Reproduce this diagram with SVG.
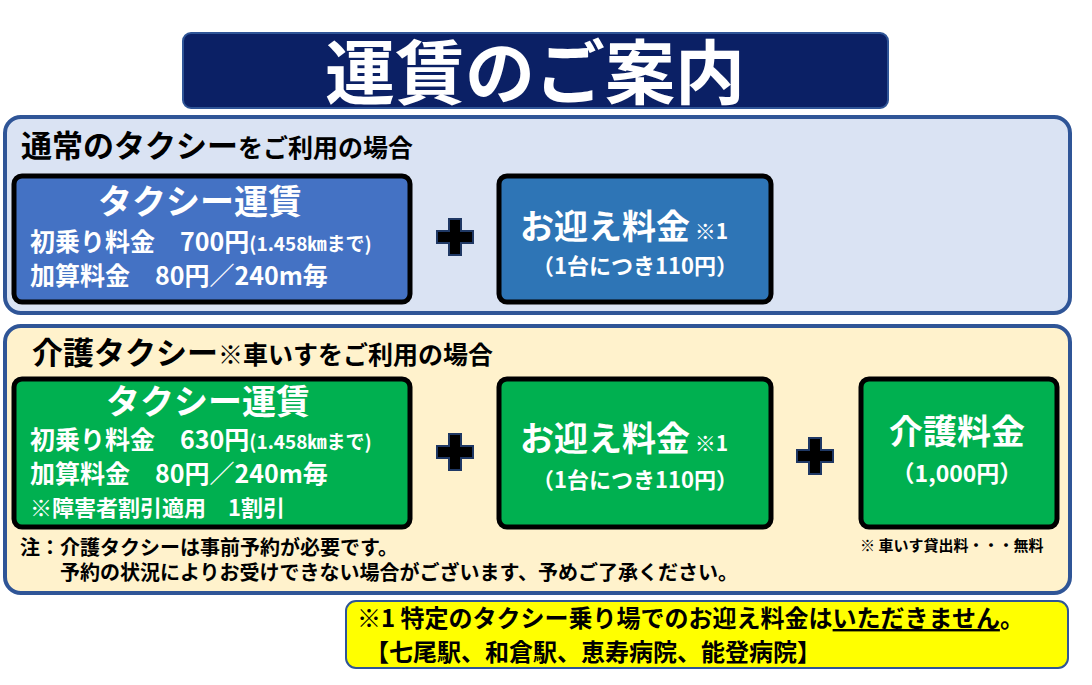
<svg xmlns="http://www.w3.org/2000/svg" width="1092" height="685" viewBox="0 0 1092 685">
<style>
text{font-family:"Noto Sans CJK JP","Noto Sans",sans-serif;font-weight:bold}
.w{fill:#fff}
.k{fill:#000}
.box{stroke:#000;stroke-width:5}
.panel{stroke:#2f5597;stroke-width:4}
.plus{fill:#000;stroke:#1f3864;stroke-width:2}
</style>
<defs>
<path id="plus" d="M-6,-18h12v12h12v12h-12v12h-12v-12h-12v-12h12z"/>
</defs>
<rect width="1092" height="685" fill="#fff"/>
<g id="title">
<rect x="183" y="33" width="705" height="75" rx="8" fill="#0b2065" stroke="#2f5597" stroke-width="2"/>
<text x="535" y="99" font-size="70" text-anchor="middle" class="w">運賃のご案内</text>
</g>
<g id="panel-normal">
<rect x="5" y="117" width="1065" height="196" rx="16" fill="#dae3f3" class="panel"/>
<text x="21" y="157" class="k" font-size="31">通常のタクシー<tspan font-size="25">をご利用の場合</tspan></text>
</g>
<g id="fare-normal">
<rect x="14" y="176" width="396" height="126" rx="8" fill="#4472c4" class="box"/>
<text x="200" y="214" font-size="34" text-anchor="middle" class="w">タクシー運賃</text>
<text x="30" y="251" font-size="25" class="w">初乗り料金　700円<tspan font-size="19">(1.458㎞まで)</tspan></text>
<text x="30" y="285" font-size="25" class="w">加算料金　80円／240m毎</text>
</g>
<g id="pickup-normal">
<rect x="499" y="176" width="272" height="126" rx="8" fill="#2e75b6" class="box"/>
<text x="520" y="239" font-size="34" class="w">お迎え料金<tspan font-size="21"> ※1</tspan></text>
<text x="635" y="274" font-size="22" text-anchor="middle" class="w">（1台につき110円）</text>
</g>
<g id="panel-care">
<rect x="5" y="326" width="1065" height="267" rx="16" fill="#fff2cc" class="panel"/>
<text x="32" y="364" class="k" font-size="31">介護タクシー<tspan font-size="25">※車いすをご利用の場合</tspan></text>
<text x="20" y="555" font-size="20" class="k">注：介護タクシーは事前予約が必要です。</text>
<text x="20" y="580" font-size="20" class="k">　　予約の状況によりお受けできない場合がございます、予めご了承ください。</text>
<text x="860" y="551" font-size="15" class="k">※ 車いす貸出料・・・無料</text>
</g>
<g id="fare-care">
<rect x="14" y="379" width="396" height="148" rx="8" fill="#00b050" class="box"/>
<text x="208" y="414" font-size="34" text-anchor="middle" class="w">タクシー運賃</text>
<text x="30" y="449" font-size="25" class="w">初乗り料金　630円<tspan font-size="19">(1.458㎞まで)</tspan></text>
<text x="30" y="483" font-size="25" class="w">加算料金　80円／240m毎</text>
<text x="30" y="516" font-size="22" class="w">※障害者割引適用　1割引</text>
</g>
<g id="pickup-care">
<rect x="499" y="379" width="272" height="148" rx="8" fill="#00b050" class="box"/>
<text x="520" y="451" font-size="34" class="w">お迎え料金<tspan font-size="21"> ※1</tspan></text>
<text x="635" y="488" font-size="22" text-anchor="middle" class="w">（1台につき110円）</text>
</g>
<g id="care-fee">
<rect x="861" y="379" width="196" height="148" rx="8" fill="#00b050" class="box"/>
<text x="957" y="444" font-size="34" text-anchor="middle" class="w">介護料金</text>
<text x="957" y="482" font-size="23" text-anchor="middle" class="w">（1,000円）</text>
</g>
<g id="connectors">
<use href="#plus" x="455" y="237" class="plus"/>
<use href="#plus" x="455" y="452" class="plus"/>
<use href="#plus" x="815" y="456" class="plus"/>
</g>
<g id="footnote">
<rect x="346" y="601" width="722" height="67" rx="10" fill="#ffff00" stroke="#2f5597" stroke-width="2"/>
<text x="357" y="627" font-size="24" class="k">※1 特定のタクシー乗り場でのお迎え料金は<tspan text-decoration="underline">いただきません</tspan>。</text>
<text x="365" y="661" font-size="24" class="k">【七尾駅、和倉駅、恵寿病院、能登病院】</text>
</g>
</svg>
